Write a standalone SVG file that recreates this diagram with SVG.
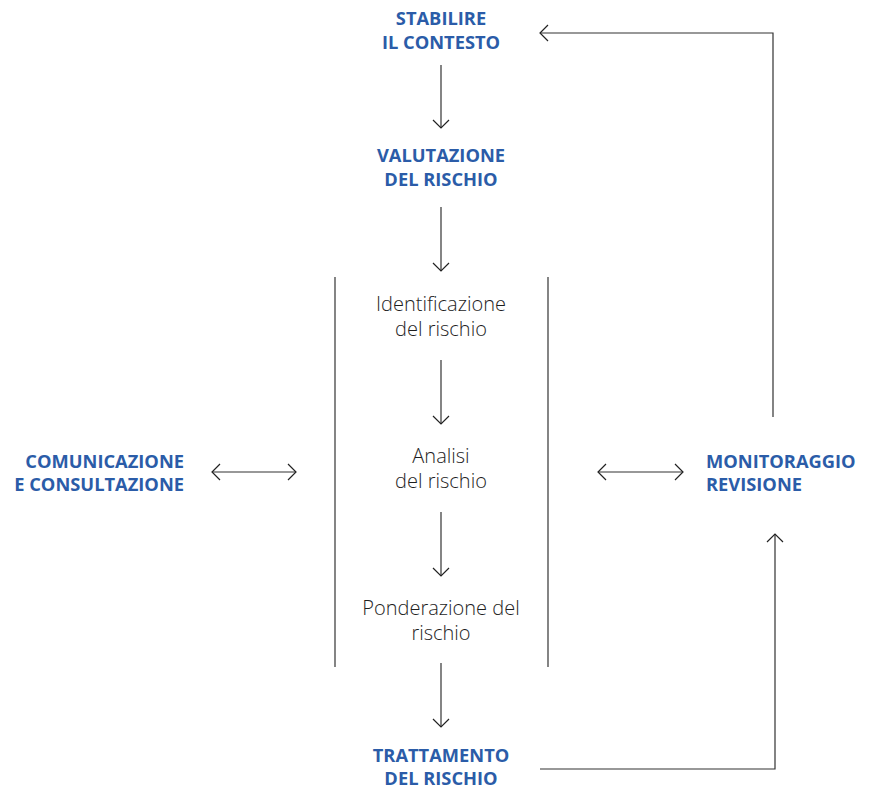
<svg xmlns="http://www.w3.org/2000/svg" width="875" height="790" viewBox="0 0 875 790">
<style>
.h{font-family:"Open Sans","Noto Sans","Liberation Sans",sans-serif;font-weight:700;font-size:18.3px;fill:#2b5ca8;text-anchor:middle}
.t{font-family:"Open Sans","Noto Sans","Liberation Sans",sans-serif;font-weight:300;font-size:20px;fill:#1e1e1e;text-anchor:middle}
.c{stroke:#333;stroke-width:1.2;fill:none}
</style>
<defs>
<marker id="ah" viewBox="0 0 20 20" refX="10" refY="10" markerWidth="20" markerHeight="20" markerUnits="userSpaceOnUse" orient="auto-start-reverse">
<path d="M2,2 L10,10 L2,18" fill="none" stroke="#222" stroke-width="1.2"/>
</marker>
</defs>
<g id="connectors">
<line class="c" x1="441" y1="65" x2="441" y2="128" marker-end="url(#ah)"/>
<line class="c" x1="441" y1="207" x2="441" y2="271" marker-end="url(#ah)"/>
<line class="c" x1="441" y1="360" x2="441" y2="424" marker-end="url(#ah)"/>
<line class="c" x1="441" y1="512" x2="441" y2="576" marker-end="url(#ah)"/>
<line class="c" x1="441" y1="663" x2="441" y2="727" marker-end="url(#ah)"/>
<line class="c" x1="335" y1="277" x2="335" y2="667"/>
<line class="c" x1="548" y1="277" x2="548" y2="667"/>
<line class="c" x1="212" y1="472" x2="296" y2="472" marker-start="url(#ah)" marker-end="url(#ah)"/>
<line class="c" x1="598" y1="472" x2="683" y2="472" marker-start="url(#ah)" marker-end="url(#ah)"/>
<polyline class="c" points="540,769 775,769 775,534" marker-end="url(#ah)"/>
<polyline class="c" points="773,417 773,33 540,33" marker-end="url(#ah)"/>
</g>
<g id="stabilire"><text class="h" x="441" y="25">STABILIRE</text><text class="h" x="441" y="49">IL CONTESTO</text></g>
<g id="valutazione"><text class="h" x="441" y="162">VALUTAZIONE</text><text class="h" x="441" y="186">DEL RISCHIO</text></g>
<g id="identificazione"><text class="t" x="441" y="311">Identificazione</text><text class="t" x="441" y="336">del rischio</text></g>
<g id="analisi"><text class="t" x="441" y="463">Analisi</text><text class="t" x="441" y="488">del rischio</text></g>
<g id="ponderazione"><text class="t" x="441" y="615">Ponderazione del</text><text class="t" x="441" y="640">rischio</text></g>
<g id="trattamento"><text class="h" x="441" y="762">TRATTAMENTO</text><text class="h" x="441" y="785">DEL RISCHIO</text></g>
<g id="comunicazione"><text class="h" x="184" y="468" style="text-anchor:end">COMUNICAZIONE</text><text class="h" x="184" y="491" style="text-anchor:end">E CONSULTAZIONE</text></g>
<g id="monitoraggio"><text class="h" x="706" y="468" style="text-anchor:start">MONITORAGGIO</text><text class="h" x="706" y="491" style="text-anchor:start">REVISIONE</text></g>
</svg>
